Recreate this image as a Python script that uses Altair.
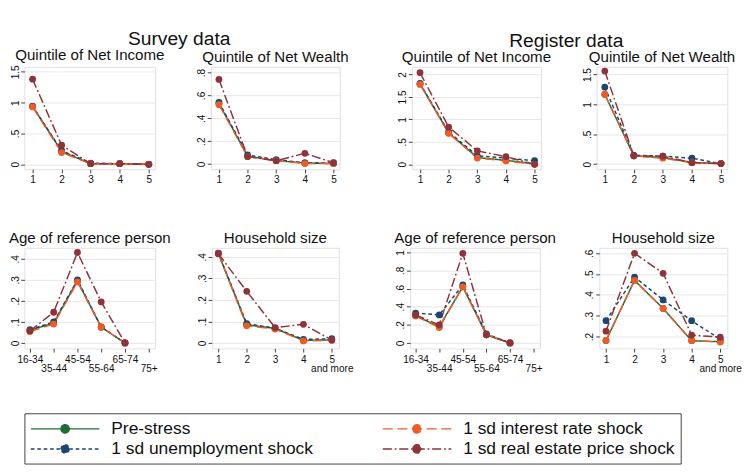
import altair as alt
import pandas as pd

SERIES_DRAW = ["Pre-stress", "1 sd unemployment shock", "1 sd interest rate shock", "1 sd real estate price shock"]
LEGEND_ORDER = ["Pre-stress", "1 sd interest rate shock", "1 sd unemployment shock", "1 sd real estate price shock"]
COLORS = ["#1f6e34", "#f25a24", "#1a476f", "#8f3339"]
DASHES = [[1, 0], [11, 5], [4, 3], [10, 3, 2, 3]]

QUINT = [1, 2, 3, 4, 5]
AGE_X = [1, 2, 3, 4, 5]
AGE_LABELS = ["16-34", "35-44", "45-54", "55-64", "65-74", "75+"]
HH_X = [1, 2, 3, 4, 5]

survey_income = {
    "Pre-stress": [0.94, 0.21, 0.01, 0.01, 0.0],
    "1 sd unemployment shock": [0.94, 0.22, 0.02, 0.01, 0.0],
    "1 sd interest rate shock": [0.93, 0.19, 0.01, 0.01, 0.0],
    "1 sd real estate price shock": [1.38, 0.31, 0.01, 0.01, 0.0],
}
survey_wealth = {
    "Pre-stress": [0.53, 0.07, 0.03, 0.01, 0.005],
    "1 sd unemployment shock": [0.54, 0.08, 0.04, 0.01, 0.01],
    "1 sd interest rate shock": [0.52, 0.065, 0.03, 0.005, 0.005],
    "1 sd real estate price shock": [0.74, 0.066, 0.03, 0.094, 0.012],
}
register_income = {
    "Pre-stress": [1.79, 0.70, 0.15, 0.09, 0.01],
    "1 sd unemployment shock": [1.80, 0.72, 0.19, 0.14, 0.08],
    "1 sd interest rate shock": [1.78, 0.69, 0.14, 0.075, 0.0],
    "1 sd real estate price shock": [2.04, 0.83, 0.30, 0.17, 0.0],
}
register_wealth = {
    "Pre-stress": [1.17, 0.14, 0.11, 0.03, 0.01],
    "1 sd unemployment shock": [1.29, 0.15, 0.135, 0.10, 0.01],
    "1 sd interest rate shock": [1.17, 0.14, 0.10, 0.025, 0.01],
    "1 sd real estate price shock": [1.56, 0.14, 0.135, 0.025, 0.01],
}
survey_age = {
    "Pre-stress": [0.060, 0.095, 0.295, 0.075, 0.0],
    "1 sd unemployment shock": [0.063, 0.100, 0.300, 0.076, 0.0],
    "1 sd interest rate shock": [0.054, 0.090, 0.290, 0.075, 0.0],
    "1 sd real estate price shock": [0.057, 0.146, 0.430, 0.195, 0.0],
}
survey_hh = {
    "Pre-stress": [0.416, 0.085, 0.068, 0.012, 0.015],
    "1 sd unemployment shock": [0.418, 0.090, 0.069, 0.017, 0.020],
    "1 sd interest rate shock": [0.415, 0.080, 0.065, 0.010, 0.013],
    "1 sd real estate price shock": [0.415, 0.240, 0.072, 0.087, 0.014],
}
register_age = {
    "Pre-stress": [0.30, 0.18, 0.62, 0.09, 0.0],
    "1 sd unemployment shock": [0.33, 0.31, 0.64, 0.10, 0.0],
    "1 sd interest rate shock": [0.30, 0.17, 0.62, 0.09, 0.0],
    "1 sd real estate price shock": [0.31, 0.20, 0.99, 0.09, 0.0],
}
register_hh = {
    "Pre-stress": [0.18, 0.47, 0.335, 0.18, 0.175],
    "1 sd unemployment shock": [0.276, 0.486, 0.376, 0.276, 0.187],
    "1 sd interest rate shock": [0.181, 0.47, 0.335, 0.18, 0.174],
    "1 sd real estate price shock": [0.226, 0.60, 0.504, 0.207, 0.197],
}

FONT = "Liberation Sans"
Y_LABEL = ("datum.value == 0 ? '0' : (abs(datum.value) < 1 ? "
           "replace(format(datum.value, '.1~f'), '0.', '.') : format(datum.value, '.1~f'))")
AGE_EXPR = (f"(datum.value % 2 == 1) ? {AGE_LABELS!r}[datum.value - 1] : "
            f"['', {AGE_LABELS!r}[datum.value - 1]]")
HH_EXPR = "datum.value == 5 ? ['5', 'and more'] : datum.label"

LEGEND = alt.Legend(
    title=None, orient="bottom", columns=2, columnPadding=72, rowPadding=1,
    labelFontSize=19, labelFont=FONT, labelColor="#111", labelLimit=400,
    symbolType="M-1,0L6.5,0M2.3,0A0.45,0.45 0 1,1 3.2,0A0.45,0.45 0 1,1 2.3,0Z",
    symbolSize=400, symbolStrokeWidth=1.6, labelOffset=67, padding=6,
    strokeColor="#333", offset=43,
)


def panel(title, x, values, yticks, ydom, xdom, xticks, xexpr, height, width=142):
    rows = []
    for s in SERIES_DRAW:
        for xi, v in zip(x, values[s]):
            rows.append({"x": xi, "v": v, "series": s})
    df = pd.DataFrame(rows)
    xaxis = dict(values=xticks, title=None, grid=False, tickSize=4, labelFontSize=11,
                 labelFont=FONT, labelPadding=2, domain=False, tickColor="#333",
                 labelColor="#111", labelLineHeight=10, labelOverlap=False, labelBaseline="top")
    if xexpr:
        xaxis["labelExpr"] = xexpr
    return alt.Chart(df, title=alt.Title(title, fontSize=16.5, font=FONT, fontWeight="normal",
                                         anchor="middle", offset=2, color="#111")).mark_line(
        strokeWidth=1.6,
        point=alt.OverlayMarkDef(filled=True, size=55, opacity=1),
        clip=True,
    ).encode(
        x=alt.X("x:Q", scale=alt.Scale(domain=xdom, nice=False, zero=False), axis=alt.Axis(**xaxis)),
        y=alt.Y("v:Q", scale=alt.Scale(domain=ydom, nice=False, zero=False),
                axis=alt.Axis(values=yticks, title=None, labelExpr=Y_LABEL, grid=True,
                              gridColor="#e4e4e4", tickSize=4, labelFontSize=11, labelFont=FONT,
                              labelAngle=270, labelAlign="center", labelBaseline="bottom",
                              labelPadding=1, domain=False, tickColor="#333", labelColor="#111")),
        color=alt.Color("series:N", scale=alt.Scale(domain=LEGEND_ORDER, range=COLORS), legend=LEGEND),
        strokeDash=alt.StrokeDash("series:N", scale=alt.Scale(domain=LEGEND_ORDER, range=DASHES),
                                  legend=LEGEND),
    ).properties(width=width, height=height)


TOP_H = 112
BOT_H = 110
p1 = panel("Quintile of Net Income", QUINT, survey_income, [0, 0.5, 1, 1.5], [-0.08, 1.58], [0.72, 5.22], QUINT, None, TOP_H, 143)
p2 = panel("Quintile of Net Wealth", QUINT, survey_wealth, [0, 0.2, 0.4, 0.6, 0.8], [-0.045, 0.85], [0.72, 5.22], QUINT, None, TOP_H, 141)
p3 = panel("Quintile of Net Income", QUINT, register_income, [0, 0.5, 1, 1.5, 2], [-0.11, 2.17], [0.72, 5.22], QUINT, None, TOP_H, 141)
p4 = panel("Quintile of Net Wealth", QUINT, register_wealth, [0, 0.5, 1, 1.5], [-0.085, 1.63], [0.72, 5.22], QUINT, None, TOP_H, 143)
p5 = panel("Age of reference person", AGE_X, survey_age, [0, 0.1, 0.2, 0.3, 0.4], [-0.026, 0.452], [0.77, 6.27], [1, 2, 3, 4, 5, 6], AGE_EXPR, BOT_H, 143)
p6 = panel("Household size", HH_X, survey_hh, [0, 0.1, 0.2, 0.3, 0.4], [-0.025, 0.442], [0.77, 5.25], HH_X, HH_EXPR, BOT_H, 139)
p7 = panel("Age of reference person", AGE_X, register_age, [0, 0.2, 0.4, 0.6, 0.8, 1], [-0.06, 1.05], [0.77, 6.27], [1, 2, 3, 4, 5, 6], AGE_EXPR, BOT_H, 142)
p8 = panel("Household size", HH_X, register_hh, [0.2, 0.3, 0.4, 0.5, 0.6], [0.143, 0.626], [0.77, 5.25], HH_X, HH_EXPR, BOT_H, 140)

GT = dict(fontSize=21, font=FONT, fontWeight="normal", anchor="middle", offset=-1, color="#111")
top_row = alt.hconcat(
    alt.hconcat(p1, p2, spacing=33, title=alt.Title("Survey data", **GT)),
    alt.hconcat(p3, p4, spacing=32, title=alt.Title("Register data", **GT)),
    spacing=51,
)
bottom_row = alt.hconcat(
    alt.hconcat(p5, p6, spacing=27),
    alt.hconcat(p7, p8, spacing=29),
    spacing=43,
)

chart = alt.vconcat(top_row, bottom_row, spacing=49).properties(
    padding={"left": 0, "top": 0, "right": 0, "bottom": 0}
).configure_view(stroke="#444", strokeWidth=1).configure(background="white")

chart.save("out.html", embed_options={"renderer": "svg", "actions": False})
